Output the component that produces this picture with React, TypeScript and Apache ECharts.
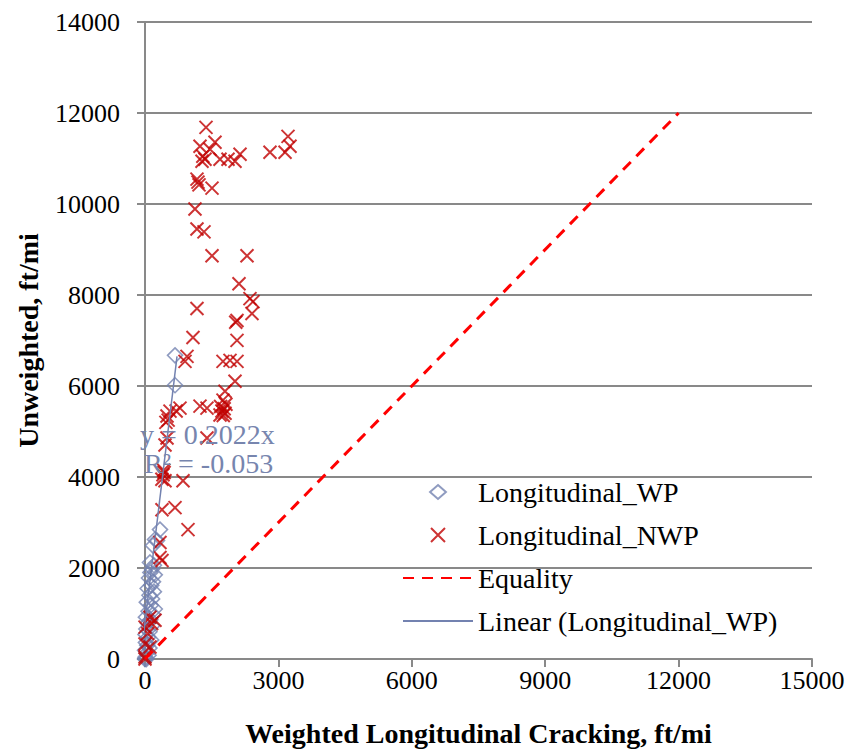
import React, { useEffect, useRef } from "react";
import * as echarts from "echarts";

const FONT = '"Liberation Serif", "Times New Roman", serif';

const seriesNames = [
  "Longitudinal_WP",
  "Longitudinal_NWP",
  "Equality",
  "Linear (Longitudinal_WP)",
];
const xAxisTitle = "Weighted Longitudinal Cracking, ft/mi";
const yAxisTitle = "Unweighted, ft/mi";
const trendEquation = ["y = 0.2022x", "R² = -0.053"];

const xRange = { min: 0, max: 15000, interval: 3000 };
const yRange = { min: 0, max: 14000, interval: 2000 };

const wpPoints: [number, number][] = [
  [675, 6674], [675, 6017], [337, 2844], [270, 2604], [225, 2626], [180, 2494],
  [112, 2122], [200, 2060], [160, 1980], [120, 1900], [220, 1850], [90, 1780],
  [180, 1700], [140, 1620], [60, 1550], [200, 1480], [100, 1400], [160, 1320],
  [40, 1250], [130, 1180], [220, 1100], [80, 1050], [180, 980], [20, 920],
  [120, 860], [60, 790], [160, 730], [30, 660], [100, 600], [10, 540],
  [70, 480], [140, 420], [20, 360], [50, 300], [100, 240], [0, 190],
  [40, 130], [80, 80], [10, 40], [30, 0], [0, 0],
];

const nwpPoints: [number, number][] = [
  [1372, 11684], [1237, 11268], [1574, 11356], [1462, 11203], [1282, 10940],
  [1349, 10984], [1300, 11050], [1687, 10984], [1867, 10984], [2024, 10940],
  [2137, 11093], [2811, 11137], [3149, 11137], [3216, 11487], [3261, 11268],
  [1169, 10546], [1192, 10481], [1215, 10420], [1507, 10349], [1124, 9890],
  [1169, 9452], [1327, 9387], [1507, 8861], [2294, 8861], [2114, 8249],
  [2361, 7921], [2429, 7855], [2406, 7592], [1169, 7702], [2069, 7439],
  [2040, 7400], [1079, 7067], [2069, 7002], [945, 6652], [900, 6542],
  [1754, 6542], [1912, 6564], [2069, 6542], [2024, 6105], [1799, 5886],
  [1754, 5689], [1730, 5450], [1780, 5500], [1760, 5350], [1820, 5600],
  [1700, 5550], [1800, 5400], [1687, 5361], [1237, 5557], [1394, 5514],
  [787, 5514], [700, 5450], [562, 5448], [520, 5250], [495, 5339],
  [470, 5200], [1394, 4857], [495, 4857], [450, 4704], [405, 4048],
  [420, 4150], [380, 3950], [450, 3917], [430, 4100], [855, 3917],
  [382, 3282], [675, 3326], [967, 2844], [337, 2560], [337, 2232],
  [382, 2166], [112, 919], [225, 853], [150, 780], [0, 700], [60, 560],
  [0, 328], [112, 263], [0, 44], [0, 0],
];

const equalityLine: [number, number][] = [[0, 0], [12000, 12000]];
const trendLine: [number, number][] = [[-100, 0], [720, 6650]];

export default function App() {
  const ref = useRef<HTMLDivElement>(null);
  useEffect(() => {
    document.body.style.margin = "0";
    const chart = echarts.init(ref.current!, null, { renderer: "svg" });
    const axisGray = "#898989";
    const plain = (v: number) => String(v);
    chart.setOption({
      animation: false,
      backgroundColor: "#ffffff",
      textStyle: { fontFamily: FONT },
      grid: { left: 145, right: 49, top: 22, bottom: 90, containLabel: false },
      xAxis: {
        type: "value",
        ...xRange,
        name: xAxisTitle,
        nameLocation: "middle",
        nameGap: 60,
        nameTextStyle: { fontFamily: FONT, fontSize: 28, fontWeight: "bold", color: "#000" },
        axisLine: { show: true, onZero: false, lineStyle: { color: axisGray, width: 2 } },
        axisTick: { show: true, length: 8, lineStyle: { color: axisGray, width: 2 } },
        axisLabel: { fontFamily: FONT, fontSize: 26, color: "#000", margin: 8, formatter: plain },
        splitLine: { show: false },
      },
      yAxis: {
        type: "value",
        ...yRange,
        name: yAxisTitle,
        nameLocation: "middle",
        nameGap: 103,
        nameTextStyle: { fontFamily: FONT, fontSize: 28, fontWeight: "bold", color: "#000" },
        axisLine: { show: true, onZero: false, lineStyle: { color: axisGray, width: 2 } },
        axisTick: { show: true, length: 8, lineStyle: { color: axisGray, width: 2 } },
        axisLabel: { fontFamily: FONT, fontSize: 26, color: "#000", margin: 25, formatter: plain },
        splitLine: { show: true, lineStyle: { color: axisGray, width: 2 } },
      },
      legend: {
        orient: "vertical",
        left: 402,
        top: 478,
        padding: 0,
        itemWidth: 70,
        itemHeight: 14,
        itemGap: 15,
        data: [
          { name: seriesNames[0], icon: "path://M0,0M70,14M35,-0.5L43.5,7L35,14.5L26.5,7Z" },
          { name: seriesNames[1] },
          { name: seriesNames[2], itemStyle: { opacity: 0 } },
          { name: seriesNames[3], itemStyle: { opacity: 0 } },
        ],
        textStyle: { fontFamily: FONT, fontSize: 28, color: "#000" },
      },
      series: [
        {
          name: seriesNames[0],
          type: "scatter",
          data: wpPoints,
          symbol: "diamond",
          symbolSize: 15,
          itemStyle: { color: "rgba(255,255,255,0)", borderColor: "#7382B0", borderWidth: 1.6 },
          z: 2,
        },
        {
          name: seriesNames[1],
          type: "scatter",
          data: nwpPoints,
          symbol: "path://M0,0L10,10M10,0L0,10",
          symbolSize: 13,
          symbolKeepAspect: true,
          itemStyle: { color: "#C00000", borderColor: "#C00000", borderWidth: 2 },
          z: 3,
        },
        {
          name: seriesNames[2],
          type: "line",
          data: equalityLine,
          showSymbol: false,
          symbol: "none",
          lineStyle: { color: "#FF0000", width: 3, type: [11, 8] },
          itemStyle: { color: "#FF0000" },
          z: 4,
        },
        {
          name: seriesNames[3],
          type: "line",
          data: trendLine,
          showSymbol: false,
          symbol: "none",
          clip: false,
          lineStyle: { color: "#7382B0", width: 1.5 },
          itemStyle: { color: "#7382B0" },
          z: 5,
        },
      ],
      graphic: [
        {
          type: "text",
          x: 140,
          y: 434,
          z: 100,
          style: {
            text: trendEquation[0],
            font: `28px ${FONT}`,
            fill: "#7785AE",
            verticalAlign: "middle",
          },
        },
        {
          type: "text",
          x: 144,
          y: 463,
          z: 100,
          style: {
            text: trendEquation[1],
            font: `28px ${FONT}`,
            fill: "#7785AE",
            verticalAlign: "middle",
          },
        },
      ],
    });
    return () => chart.dispose();
  }, []);
  return <div ref={ref} style={{ width: 861, height: 752 }} />;
}
